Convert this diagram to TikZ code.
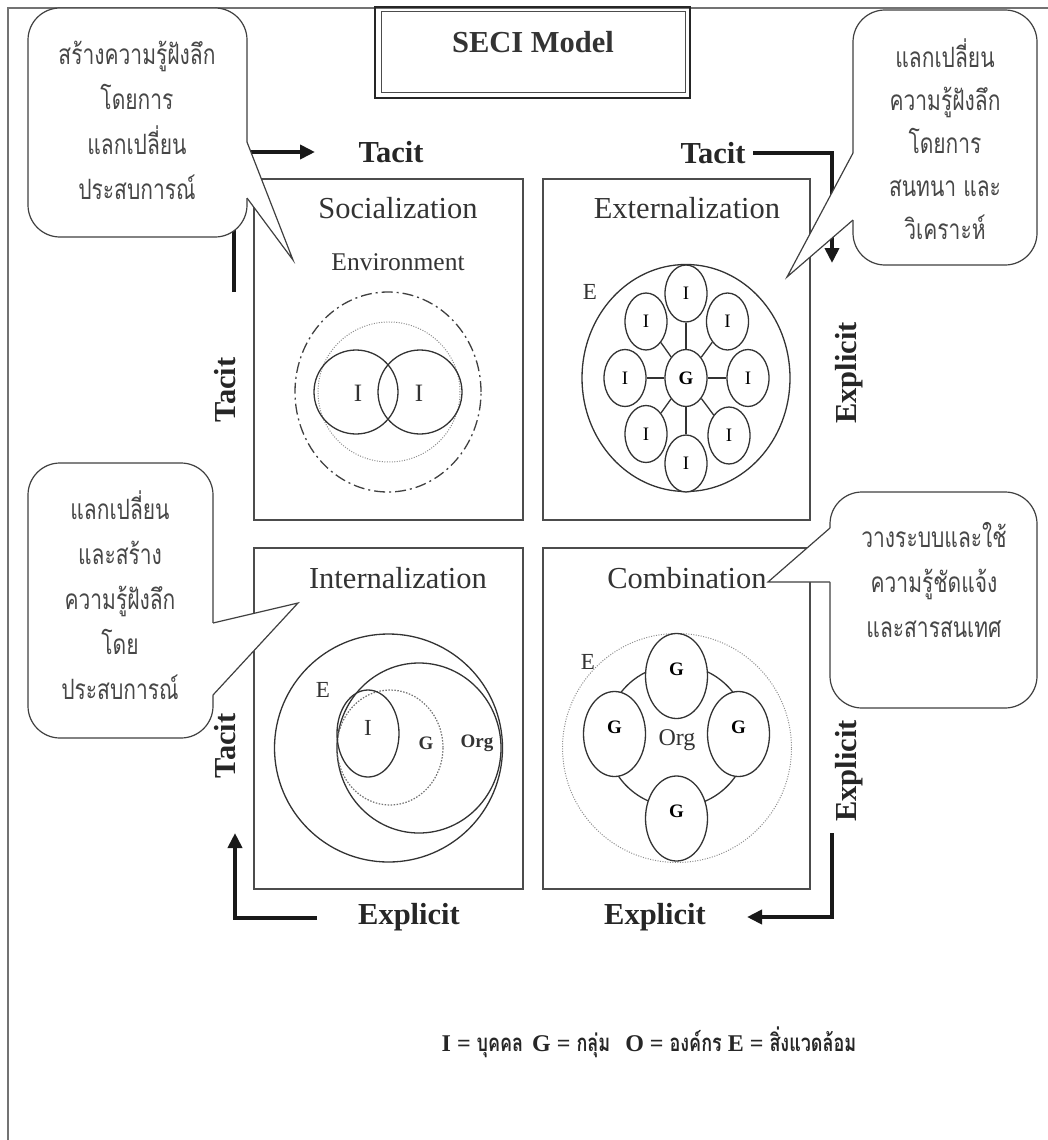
\documentclass[tikz,border=0pt]{standalone}
\usepackage{fontspec}
\setmainfont{Liberation Serif}
\newfontfamily\thaifont[Script=Thai,FakeStretch=0.75]{Loma}
\usetikzlibrary{arrows.meta,shapes.geometric}

\begin{document}
\begin{tikzpicture}[x=1pt,y=-1pt,
  frameline/.style={draw=black!55,line width=2pt},
  quad/.style={draw=black!70,line width=1.4pt},
  qtitle/.style={font=\fontsize{30.5}{34}\selectfont,text=black!80,inner sep=0pt},
  flow/.style={line width=4pt,draw=black!90,-{Triangle[length=15pt,width=14pt]}},
  flowlabel/.style={font=\bfseries\fontsize{30.5}{34}\selectfont,text=black!85,inner sep=0pt},
  bubble/.style={draw=black!75,line width=1.2pt,fill=white,rounded corners=32pt},
  bubbleline/.style={draw=black!75,line width=1.2pt,line join=miter},
  bubbletext/.style={font=\thaifont\fontsize{28}{45}\selectfont,align=center,text=black!72,inner sep=0pt},
  ring/.style={draw=black!80,line width=1.3pt},
  dotring/.style={draw=black!45,line width=1pt,dash pattern=on 1pt off 1.5pt},
  member/.style={ellipse,draw=black!80,line width=1.3pt,fill=white,inner sep=0pt},
  lbl/.style={inner sep=0pt,text=black!80},
]
\useasboundingbox (0,0) rectangle (1048,1140);

% page frame
\draw[frameline] (8,1140) -- (8,8) -- (1048,8);

% title
\node[draw=black!85,line width=2.6pt,minimum width=315pt,minimum height=91pt,inner sep=0pt] (titlebox) at (532.5,52.5) {};
\node[draw=black!70,line width=1pt,minimum width=304pt,minimum height=80pt,inner sep=0pt] (titleinner) at (533,52) {};
\node[font=\bfseries\fontsize{30.5}{34}\selectfont,text=black!80,inner sep=0pt] (title) at (533,42) {SECI Model};

% quadrant boxes
\draw[quad] (254,179) rectangle (523,520);
\draw[quad] (543,179) rectangle (810,520);
\draw[quad] (254,548) rectangle (523,889);
\draw[quad] (543,548) rectangle (810,889);

\node[qtitle] (soc) at (398,208) {Socialization};
\node[qtitle] (ext) at (687,208) {Externalization};
\node[qtitle] (int) at (398,578) {Internalization};
\node[qtitle] (com) at (687,578) {Combination};

% Socialization: two individuals in an environment
\node[lbl,font=\fontsize{25.5}{28}\selectfont] (env) at (398,262) {Environment};
\draw[draw=black!75,line width=1.3pt,dash pattern=on 11pt off 4pt on 2pt off 4pt] (388,392) ellipse [x radius=93pt,y radius=100pt];
\draw[dotring] (389,392) ellipse [x radius=71pt,y radius=70pt];
\draw[ring] (356,392) circle [radius=42pt];
\draw[ring] (420,392) circle [radius=42pt];
\node[lbl,font=\fontsize{25}{28}\selectfont] (s1) at (358,393) {I};
\node[lbl,font=\fontsize{25}{28}\selectfont] (s2) at (419,393) {I};

% Externalization: individuals around a group
\draw[ring] (686,378) ellipse [x radius=104pt,y radius=113.5pt];
\node[lbl,font=\fontsize{23}{26}\selectfont] (eE) at (590,292) {E};
\begin{scope}[every node/.style={member,minimum width=42pt,minimum height=57pt,font=\fontsize{19}{22}\selectfont}]
  \node (g) at (686,378) {\bfseries G};
  \node (i1) at (686,293.5) {I};
  \node (i2) at (727.5,321.5) {I};
  \node (i3) at (748,378) {I};
  \node (i4) at (729,435.5) {I};
  \node (i5) at (686,463.5) {I};
  \node (i6) at (646,434) {I};
  \node (i7) at (625,378) {I};
  \node (i8) at (646,321.5) {I};
\end{scope}
\foreach \k in {1,...,8} \draw[ring] (g) -- (i\k);

% Internalization: individual, group and organisation in an environment
\draw[ring] (388.5,748) circle [radius=114pt];
\draw[ring] (419,748) ellipse [x radius=82pt,y radius=85pt];
\draw[draw=black!55,line width=1.2pt,dash pattern=on 1.5pt off 1.5pt] (390,747.5) ellipse [x radius=53pt,y radius=57.5pt];
\draw[ring] (368,733.5) ellipse [x radius=31pt,y radius=43.5pt];
\node[lbl,font=\fontsize{23}{26}\selectfont] (iE) at (323,690) {E};
\node[lbl,font=\fontsize{23}{26}\selectfont] (iI) at (368,728) {I};
\node[lbl,font=\bfseries\fontsize{19}{22}\selectfont] (iG) at (426,743) {G};
\node[lbl,font=\bfseries\fontsize{19}{22}\selectfont] (iOrg) at (477,743) {Org};

% Combination: groups linked into an organisation
\draw[dotring] (677,748) circle [radius=114.5pt];
\draw[ring] (677,736) circle [radius=71pt];
\node[lbl,font=\fontsize{23}{26}\selectfont] (cE) at (588,662) {E};
\node[lbl,font=\fontsize{24}{26}\selectfont] (cOrg) at (677,740) {Org};
\begin{scope}[every node/.style={member,minimum width=62pt,minimum height=85pt,font=\bfseries\fontsize{19}{22}\selectfont}]
  \node (c1) at (676.5,676) {\raisebox{14pt}{G}};
  \node (c2) at (738.5,734) {\raisebox{14pt}{G}};
  \node (c3) at (676.5,818.5) {\raisebox{14pt}{G}};
  \node (c4) at (614.5,734) {\raisebox{14pt}{G}};
\end{scope}

% conversion arrows
\coordinate (a1s) at (234,292); \coordinate (a1e) at (315,152);
\coordinate (a2s) at (753,153); \coordinate (a2e) at (832,263);
\coordinate (a3s) at (832,833); \coordinate (a3e) at (747,917);
\coordinate (a4s) at (317,918); \coordinate (a4e) at (235,833);
\draw[flow] (a1s) |- (a1e);
\draw[flow] (a2s) -| (a2e);
\draw[flow] (a3s) |- (a3e);
\draw[flow] (a4s) -| (a4e);

\node[flowlabel] (t1) at (391,152) {Tacit};
\node[flowlabel] (t2) at (713,153) {Tacit};
\node[flowlabel,rotate=90] (t3) at (225,390) {Tacit};
\node[flowlabel,rotate=90] (t4) at (225,746) {Tacit};
\node[flowlabel,rotate=90] (x1) at (849,373) {Explicit};
\node[flowlabel,rotate=90] (x2) at (849,771) {Explicit};
\node[flowlabel] (x3) at (409,917) {Explicit};
\node[flowlabel] (x4) at (655,917) {Explicit};

% callouts
\draw[bubble] (28,8) rectangle (247,237);
\fill[white] (243,142) -- (247,142) -- (293,260) -- (247,198) -- (243,198) -- cycle;
\draw[bubbleline] (247,142) -- (293,260) -- (247,198);
\node[bubbletext] (b1) at (137,120) {สร้างความรู้ฝังลึก\\โดยการ\\แลกเปลี่ยน\\ประสบการณ์};

\draw[bubble] (853,10) rectangle (1037,265);
\fill[white] (857,153) -- (853,153) -- (787,277) -- (853,220) -- (857,220) -- cycle;
\draw[bubbleline] (853,153) -- (787,277) -- (853,220);
\node[bubbletext,font=\thaifont\fontsize{28}{43}\selectfont] (b2) at (945,139) {แลกเปลี่ยน\\ความรู้ฝังลึก\\โดยการ\\สนทนา และ\\วิเคราะห์};

\draw[bubble] (28,463) rectangle (213,738);
\fill[white] (209,623) -- (213,623) -- (298,603) -- (213,695) -- (209,695) -- cycle;
\draw[bubbleline] (213,623) -- (298,603) -- (213,695);
\node[bubbletext] (b3) at (120,595) {แลกเปลี่ยน\\และสร้าง\\ความรู้ฝังลึก\\โดย\\ประสบการณ์};

\draw[bubble] (830,492) rectangle (1037,708);
\fill[white] (834,528) -- (830,528) -- (768,582) -- (830,582) -- (834,582) -- cycle;
\draw[bubbleline] (830,528) -- (768,582) -- (830,582);
\node[bubbletext] (b4) at (934,580) {วางระบบและใช้\\ความรู้ชัดแจ้ง\\และสารสนเทศ};

% legend
\node[inner sep=0pt,font=\bfseries\fontsize{24}{28}\selectfont,text=black!85] (legend) at (649,1042)
  {I = {\thaifont\bfseries บุคคล}\hspace{9pt}G = {\thaifont\bfseries กลุ่ม}\hspace{15pt}O = {\thaifont\bfseries องค์กร} E = {\thaifont\bfseries สิ่งแวดล้อม}};
\end{tikzpicture}
\end{document}
